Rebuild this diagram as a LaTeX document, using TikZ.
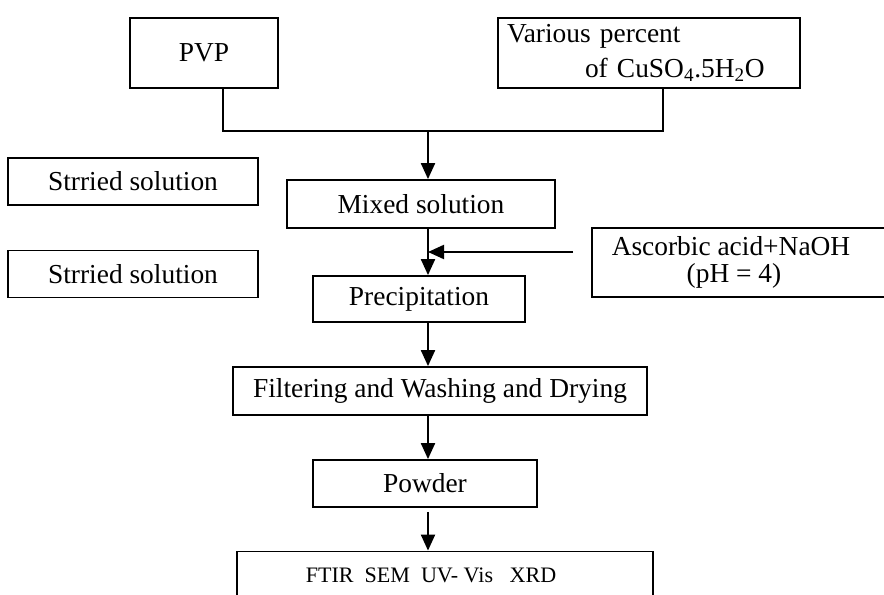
\documentclass[tikz,border=0pt]{standalone}
\usepackage{fontspec}
\setmainfont{Liberation Serif}
\usetikzlibrary{arrows.meta}

\tikzstyle{stepbox} = [rectangle, draw=black, line width=1.3pt, fill=white, text centered, inner sep=0pt, font=\fontsize{19.5}{22}\selectfont]
\tikzstyle{flow} = [line width=1.5pt, -{Triangle[length=0.4cm, width=0.35cm]}]
\tikzstyle{merge} = [line width=1.5pt]

\begin{document}
\begin{tikzpicture}[node distance=2.3cm]
      \useasboundingbox (0,0) rectangle (22.1,-14.875);
      \clip (0,0) rectangle (22.1,-14.875);

      \node (pvp) [stepbox, minimum width=3.7cm, minimum height=1.75cm] at (5.1,-1.325) {PVP};
      \node (cus) [stepbox, minimum width=7.55cm, minimum height=1.75cm, text width=7.1cm, align=left, right of=pvp, xshift=8.825cm] {Various percent\\[0.1cm]\hspace*{1.95cm}of CuSO\textsubscript{4}.5H\textsubscript{2}O};
      \node (str1) [stepbox, minimum width=6.25cm, minimum height=1.175cm] at (3.325,-4.5375) {Strried solution};
      \node (str2) [stepbox, minimum width=6.25cm, minimum height=1.175cm, below of=str1, yshift=-0.0125cm] {Strried solution};
      \node (mix) [stepbox, minimum width=6.7cm, minimum height=1.2cm] at (10.525,-5.1) {Mixed solution};
      \node (prec) [stepbox, minimum width=5.3cm, minimum height=1.15cm, below of=mix, xshift=-0.05cm, yshift=-0.075cm] {Precipitation};
      \node (asc) [stepbox, minimum width=7.4cm, minimum height=1.725cm, align=center, font=\fontsize{19.5}{19.5}\selectfont] at (18.5,-6.5625) {Ascorbic acid+NaOH\hspace*{0.45cm}\\(pH = 4)\hspace*{0.3cm}};
      \node (filt) [stepbox, minimum width=10.35cm, minimum height=1.2cm, below of=prec, xshift=0.525cm] {Filtering and Washing and Drying};
      \node (pow) [stepbox, minimum width=5.6cm, minimum height=1.175cm, below of=filt, xshift=-0.375cm, yshift=-0.0125cm] {Powder};
      \node (ana) [stepbox, minimum width=10.4cm, minimum height=1.2cm, below of=pow, xshift=0.5cm, font=\fontsize{15.7}{17}\selectfont] {FTIR\ \ SEM\ \ UV- Vis\ \ \ XRD\hspace*{0.7cm}};

      \coordinate (mergept) at (10.7,-3.275);
      \coordinate (acin) at (14.325,-6.3);

      \draw [merge] ([xshift=0.475cm]pvp.south) |- (mergept) -| ([xshift=0.35cm]cus.south);
      \draw [flow] (mergept) -- (mergept |- mix.north);
      \draw [flow] (mergept |- mix.south) -- (mergept |- prec.north);
      \draw [flow] (acin) -- (acin -| mergept);
      \draw [flow] (mergept |- prec.south) -- (mergept |- filt.north);
      \draw [flow] (mergept |- filt.south) -- (mergept |- pow.north);
      \draw [flow] ([yshift=-0.1cm]pow.south -| mergept) -- (mergept |- ana.north);
\end{tikzpicture}
\end{document}
